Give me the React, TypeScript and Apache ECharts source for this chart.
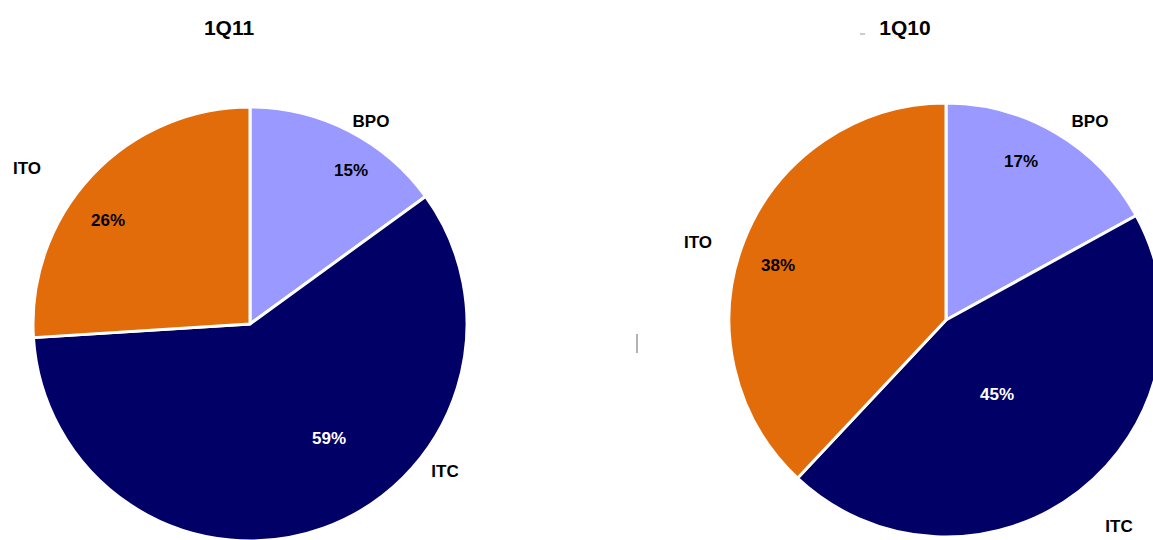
import React, { useEffect, useRef } from "react";
import * as echarts from "echarts";

const categories = ["BPO", "ITC", "ITO"];
const values1Q11 = [15, 59, 26];
const values1Q10 = [17, 45, 38];
const titles = ["1Q11", "1Q10"];

const sliceColors = ["#9999FF", "#000066", "#E36C0A"];
const pctColors = ["#000000", "#FFFFFF", "#000000"];
const FONT = "'Liberation Sans', Arial, sans-serif";

// layout (label anchor positions, per pie, per category)
const nameLabelPos = [
  [[371, 121], [445, 471], [27, 168]],
  [[1090, 121], [1119, 526], [698, 242]],
];
const pctLabelPos = [
  [[351, 170], [329, 438], [108, 220]],
  [[1021, 161], [997, 394], [778, 265]],
];
const pieCenters = [[250, 324], [946, 320]];
const pieRadius = 217;
const titlePos = [[229, 27], [905, 27]];

export default function App() {
  const ref = useRef<HTMLDivElement>(null);
  useEffect(() => {
    if (!ref.current) return;
    const chart = echarts.init(ref.current, undefined, { renderer: "svg" });
    const valueSets = [values1Q11, values1Q10];

    const sliceSeries = valueSets.map((vals, pi) => ({
      type: "pie",
      center: pieCenters[pi],
      radius: pieRadius,
      startAngle: 90,
      clockwise: true,
      silent: true,
      data: categories.map((c, i) => ({
        name: c,
        value: vals[i],
        itemStyle: { color: sliceColors[i] },
        label: { color: pctColors[i] },
      })),
      itemStyle: { borderColor: "#FFFFFF", borderWidth: 3 },
      label: {
        show: true,
        position: "inside",
        formatter: "{c}%",
        fontFamily: FONT,
        fontWeight: "bold",
        fontSize: 17,
      },
      labelLine: { show: false },
      labelLayout: (p: any) => ({
        x: pctLabelPos[pi][p.dataIndex][0],
        y: pctLabelPos[pi][p.dataIndex][1],
        align: "center",
        verticalAlign: "middle",
      }),
    }));

    const nameSeries = valueSets.map((vals, pi) => ({
      type: "pie",
      center: pieCenters[pi],
      radius: pieRadius,
      startAngle: 90,
      clockwise: true,
      silent: true,
      z: 5,
      data: categories.map((c, i) => ({ name: c, value: vals[i] })),
      itemStyle: { color: "rgba(0,0,0,0)", borderWidth: 0 },
      label: {
        show: true,
        position: "inside",
        formatter: "{b}",
        color: "#000000",
        fontFamily: FONT,
        fontWeight: "bold",
        fontSize: 17,
      },
      labelLine: { show: false },
      labelLayout: (p: any) => ({
        x: nameLabelPos[pi][p.dataIndex][0],
        y: nameLabelPos[pi][p.dataIndex][1],
        align: "center",
        verticalAlign: "middle",
      }),
    }));

    chart.setOption({
      animation: false,
      backgroundColor: "#FFFFFF",
      graphic: [
        ...titles.map((t, i) => ({
          type: "text",
          x: titlePos[i][0],
          y: titlePos[i][1],
          style: {
            text: t,
            fill: "#000000",
            font: `bold 21px ${FONT}`,
            align: "center",
            verticalAlign: "middle",
          },
        })),
        {
          type: "line",
          shape: { x1: 637, y1: 334, x2: 637, y2: 353 },
          style: { stroke: "#666666", lineWidth: 1 },
        },
        {
          type: "line",
          shape: { x1: 860, y1: 34, x2: 865, y2: 34 },
          style: { stroke: "#999999", lineWidth: 1 },
        },
      ],
      series: [...sliceSeries, ...nameSeries],
    });
    return () => chart.dispose();
  }, []);
  return (
    <div
      ref={ref}
      style={{ position: "absolute", left: 0, top: 0, width: 1153, height: 540 }}
    />
  );
}
